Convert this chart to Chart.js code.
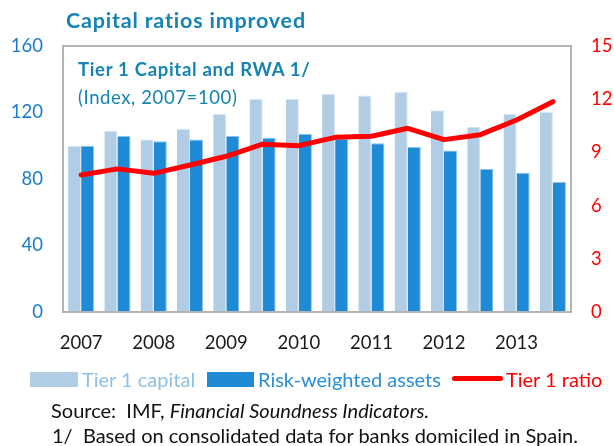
<!DOCTYPE html>
<html>
<head>
<meta charset="utf-8">
<script src="https://cdn.jsdelivr.net/npm/chart.js@4"></script>
<style>
  html, body { margin: 0; padding: 0; background: #fff; }
  #wrap { position: relative; width: 614px; height: 446px; font-family: Lato, "Open Sans", sans-serif; }
  #chart { position: absolute; left: 0; top: 0; }
  .txt { position: absolute; white-space: nowrap; line-height: 1; }
  #title { left: 66px; top: 10px; font-size: 21.5px; font-weight: bold; color: #1584b4; letter-spacing: 0.8px; }
  #sub1 { left: 78px; top: 60px; font-size: 18.5px; font-weight: bold; color: #1584b4; letter-spacing: 0.7px; }
  #sub2 { left: 78px; top: 88px; font-size: 18.5px; color: #1584b4; letter-spacing: 0.6px; }
  .sw { position: absolute; }
  .ltxt { top: 369px; font-size: 20px; }
  #src { left: 51px; top: 400px; font-size: 20px; color: #111; }
  #note { left: 52px; top: 425px; font-size: 20px; color: #111; }
</style>
</head>
<body>
<div id="wrap">
  <canvas id="chart" width="614" height="446"></canvas>
  <div class="txt" id="title">Capital ratios improved</div>
  <div class="txt" id="sub1">Tier 1 Capital and RWA 1/</div>
  <div class="txt" id="sub2">(Index, 2007=100)</div>

  <div class="sw" style="left:30px; top:372px; width:48px; height:15px; background:#b1cde6;"></div>
  <div class="txt ltxt" style="left:82px; color:#8fc0e8;">Tier 1 capital</div>
  <div class="sw" style="left:207px; top:372px; width:47px; height:15px; background:#1f8ad6;"></div>
  <div class="txt ltxt" style="left:258px; color:#2a8fd8;">Risk-weighted assets</div>
  <div class="sw" style="left:452px; top:376px; width:51px; height:5px; border-radius:3px; background:#ff0000;"></div>
  <div class="txt ltxt" style="left:506px; color:#ff0000;">Tier 1 ratio</div>

  <div class="txt" id="src">Source:&nbsp; IMF, <i>Financial Soundness Indicators.</i></div>
  <div class="txt" id="note">1/&nbsp; Based on consolidated data for banks domiciled in Spain.</div>
</div>
<script>
// Half-year periods, 2007 H1 through 2013 H2
const periods = ['2007H1','2007H2','2008H1','2008H2','2009H1','2009H2','2010H1','2010H2',
                 '2011H1','2011H2','2012H1','2012H2','2013H1','2013H2'];
// Index, 2007 = 100
const tier1Capital = [100, 109, 103.7, 110.3, 119.1, 128.1, 128.1, 131.2, 130.3, 132.5, 121.3, 111.5, 119.1, 120.3];
const riskWeightedAssets = [100, 105.9, 102.7, 103.7, 105.9, 104.8, 107, 104, 101.5, 99.2, 97.2, 86, 83.8, 78.2];
// Tier 1 ratio, percent
const tier1Ratio = [7.73, 8.07, 7.82, 8.29, 8.78, 9.46, 9.38, 9.85, 9.91, 10.36, 9.72, 10.0, 10.83, 11.86];
// Year labels shown under the first half of each year
const yearLabels = ['2007', '', '2008', '', '2009', '', '2010', '', '2011', '', '2012', '', '2013', ''];

const FONT = 'Lato, "Open Sans", sans-serif';

// Gray frame around the plotting area
const framePlugin = {
  id: 'frame',
  afterDraw(chart) {
    const { ctx, chartArea: a } = chart;
    ctx.save();
    ctx.strokeStyle = '#b3b3b3';
    ctx.lineWidth = 2;
    ctx.strokeRect(a.left, a.top, a.right - a.left, a.bottom - a.top);
    ctx.restore();
  }
};

new Chart(document.getElementById('chart'), {
  data: {
    labels: periods,
    datasets: [
      {
        type: 'line',
        label: 'Tier 1 ratio',
        data: tier1Ratio,
        yAxisID: 'yRight',
        borderColor: '#ff0000',
        borderWidth: 5,
        pointRadius: 0,
        tension: 0,
        borderCapStyle: 'round',
        borderJoinStyle: 'round',
        order: 0
      },
      {
        type: 'bar',
        label: 'Tier 1 capital',
        data: tier1Capital,
        yAxisID: 'yLeft',
        backgroundColor: '#b1cde6',
        borderColor: '#d6e6f3',
        borderWidth: { top: 1, left: 0, right: 1, bottom: 0 },
        categoryPercentage: 0.72,
        barPercentage: 1.0,
        order: 1
      },
      {
        type: 'bar',
        label: 'Risk-weighted assets',
        data: riskWeightedAssets,
        yAxisID: 'yLeft',
        backgroundColor: '#1f8ad6',
        borderColor: '#8cc3ea',
        borderWidth: { top: 1, left: 0, right: 1, bottom: 0 },
        categoryPercentage: 0.72,
        barPercentage: 1.0,
        order: 1
      }
    ]
  },
  options: {
    responsive: false,
    animation: false,
    devicePixelRatio: 1,
    layout: { padding: { top: 46, left: 0, right: 0, bottom: 0 } },
    plugins: {
      legend: { display: false },
      tooltip: { enabled: false }
    },
    scales: {
      x: {
        grid: { display: false, drawTicks: false },
        border: { display: false },
        ticks: {
          autoSkip: false,
          maxRotation: 0,
          padding: 20,
          color: '#1a1a1a',
          font: { family: FONT, size: 18.5 },
          callback: (v, i) => yearLabels[i]
        },
        afterFit(scale) { scale.height = 134; }
      },
      yLeft: {
        position: 'left',
        min: 0, max: 160,
        grid: { display: false, drawTicks: false },
        border: { display: false },
        ticks: {
          stepSize: 40,
          padding: 20,
          color: '#1a7bd0',
          font: { family: FONT, size: 18.5 }
        },
        afterFit(scale) { scale.width = 63; }
      },
      yRight: {
        position: 'right',
        min: 0, max: 15,
        grid: { display: false, drawTicks: false },
        border: { display: false },
        ticks: {
          stepSize: 3,
          padding: 20,
          color: '#ff0000',
          font: { family: FONT, size: 18.5 }
        },
        afterFit(scale) { scale.width = 43; }
      }
    }
  },
  plugins: [framePlugin]
});
</script>
</body>
</html>
